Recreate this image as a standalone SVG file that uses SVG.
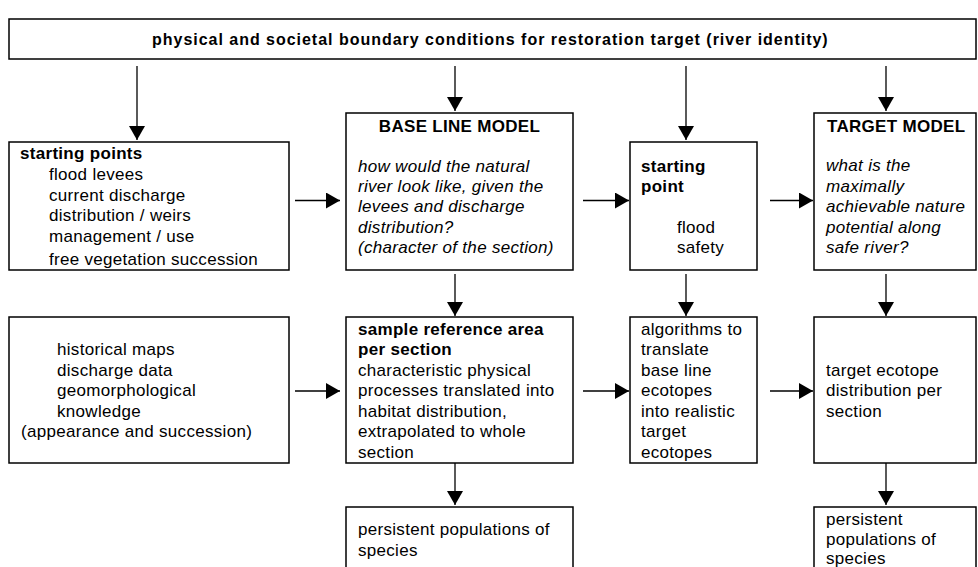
<svg xmlns="http://www.w3.org/2000/svg" width="978" height="567" viewBox="0 0 978 567">
<style>
.box{fill:#fff;stroke:#000;stroke-width:1.5}
.t{font-family:"Liberation Sans",Arial,sans-serif;font-size:17px;letter-spacing:0.3px;fill:#000}
.b{font-weight:bold}
.i{font-style:italic}
.c{stroke:#000;stroke-width:1.3;fill:none;marker-end:url(#ah)}
</style>
<defs>
<marker id="ah" viewBox="0 0 14 16" refX="14" refY="8" markerWidth="14" markerHeight="16" markerUnits="userSpaceOnUse" orient="auto">
<path d="M0,0 L14,8 L0,16 z" fill="#000"/>
</marker>
</defs>
<rect width="978" height="567" fill="#fff"/>

<g id="banner">
<rect class="box" x="9" y="19" width="967" height="40"/>
<text class="t b" x="490" y="45" text-anchor="middle" style="font-size:16px" textLength="676" lengthAdjust="spacing">physical and societal boundary conditions for restoration target (river identity)</text>
</g>

<g id="starting-points">
<rect class="box" x="9" y="142" width="280" height="128"/>
<text class="t b" x="20" y="159">starting points</text>
<text class="t" x="49" y="180">flood levees</text>
<text class="t" x="49" y="200.5">current discharge</text>
<text class="t" x="49" y="221">distribution / weirs</text>
<text class="t" x="49" y="241.5">management / use</text>
<text class="t" x="49" y="265">free vegetation succession</text>
</g>

<g id="baseline-model">
<rect class="box" x="346" y="113" width="227" height="157"/>
<text class="t b" x="459.5" y="132" text-anchor="middle">BASE LINE MODEL</text>
<text class="t i" x="358" y="171.5">how would the natural</text>
<text class="t i" x="358" y="192">river look like, given the</text>
<text class="t i" x="358" y="212">levees and discharge</text>
<text class="t i" x="358" y="232.5">distribution?</text>
<text class="t i" x="358" y="253">(character of the section)</text>
</g>

<g id="starting-point-flood">
<rect class="box" x="630" y="142" width="127" height="128"/>
<text class="t b" x="641" y="172">starting</text>
<text class="t b" x="641" y="192">point</text>
<text class="t" x="677" y="233">flood</text>
<text class="t" x="677" y="253">safety</text>
</g>

<g id="target-model">
<rect class="box" x="814" y="113" width="162" height="157"/>
<text class="t b" x="827" y="132">TARGET MODEL</text>
<text class="t i" x="826" y="171">what is the</text>
<text class="t i" x="826" y="192">maximally</text>
<text class="t i" x="826" y="212">achievable nature</text>
<text class="t i" x="826" y="232.5">potential along</text>
<text class="t i" x="826" y="253">safe river?</text>
</g>

<g id="historical">
<rect class="box" x="9" y="317" width="280" height="146"/>
<text class="t" x="57" y="355">historical maps</text>
<text class="t" x="57" y="375.5">discharge data</text>
<text class="t" x="57" y="396">geomorphological</text>
<text class="t" x="57" y="416.5">knowledge</text>
<text class="t" x="21" y="437">(appearance and succession)</text>
</g>

<g id="sample-reference">
<rect class="box" x="346" y="317" width="227" height="146"/>
<text class="t b" x="358" y="334.5">sample reference area</text>
<text class="t b" x="358" y="355">per section</text>
<text class="t" x="358" y="376">characteristic physical</text>
<text class="t" x="358" y="396">processes translated into</text>
<text class="t" x="358" y="416.5">habitat distribution,</text>
<text class="t" x="358" y="437">extrapolated to whole</text>
<text class="t" x="358" y="457.5">section</text>
</g>

<g id="algorithms">
<rect class="box" x="630" y="317" width="127" height="146"/>
<text class="t" x="641" y="335">algorithms to</text>
<text class="t" x="641" y="355">translate</text>
<text class="t" x="641" y="376">base line</text>
<text class="t" x="641" y="396">ecotopes</text>
<text class="t" x="641" y="416.5">into realistic</text>
<text class="t" x="641" y="437">target</text>
<text class="t" x="641" y="457.5">ecotopes</text>
</g>

<g id="target-ecotope">
<rect class="box" x="814" y="317" width="162" height="146"/>
<text class="t" x="826" y="376">target ecotope</text>
<text class="t" x="826" y="396">distribution per</text>
<text class="t" x="826" y="416.5">section</text>
</g>

<g id="persistent-baseline">
<rect class="box" x="346" y="507" width="227" height="70"/>
<text class="t" x="358" y="535">persistent populations of</text>
<text class="t" x="358" y="555.5">species</text>
</g>

<g id="persistent-target">
<rect class="box" x="814" y="507" width="162" height="70"/>
<text class="t" x="826" y="525">persistent</text>
<text class="t" x="826" y="545">populations of</text>
<text class="t" x="826" y="564">species</text>
</g>

<g id="connectors">
<line class="c" x1="137" y1="66" x2="137" y2="140"/>
<line class="c" x1="455" y1="66" x2="455" y2="111"/>
<line class="c" x1="686" y1="66" x2="686" y2="140"/>
<line class="c" x1="886" y1="66" x2="886" y2="111"/>
<line class="c" x1="455" y1="274" x2="455" y2="316"/>
<line class="c" x1="686" y1="274" x2="686" y2="316"/>
<line class="c" x1="886" y1="274" x2="886" y2="316"/>
<line class="c" x1="455" y1="463" x2="455" y2="505"/>
<line class="c" x1="886" y1="463" x2="886" y2="505"/>
<line class="c" x1="295" y1="200.5" x2="340" y2="200.5"/>
<line class="c" x1="583" y1="200.5" x2="629" y2="200.5"/>
<line class="c" x1="770" y1="200.5" x2="813" y2="200.5"/>
<line class="c" x1="295" y1="391" x2="340" y2="391"/>
<line class="c" x1="583" y1="391" x2="629" y2="391"/>
<line class="c" x1="770" y1="391" x2="813" y2="391"/>
</g>
</svg>
